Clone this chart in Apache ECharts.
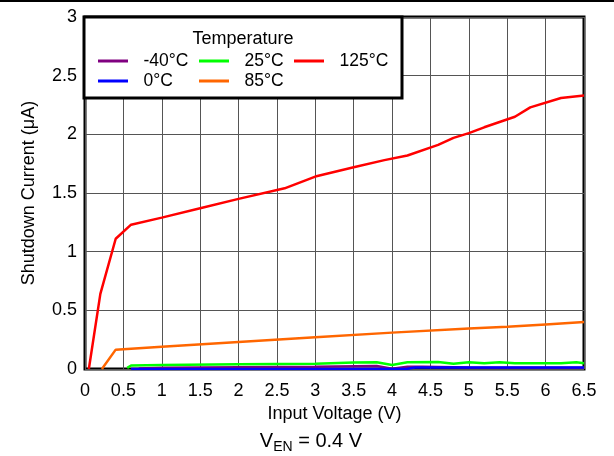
<!DOCTYPE html>
<html>
<head>
<meta charset="utf-8">
<script src="https://cdn.jsdelivr.net/npm/echarts@6/dist/echarts.min.js"></script>
<style>
  html, body { margin: 0; padding: 0; background: #fff; }
  #chart { width: 614px; height: 456px; }
</style>
</head>
<body>
<div id="chart"></div>
<script>
// input voltage (V) / shutdown current (uA) per temperature
const vM40 = [0.7, 1.0, 2.0, 3.0, 3.8, 4.0, 4.2, 4.4, 5.0, 6.0, 6.5]
const iM40 = [0.005, 0.01, 0.015, 0.02, 0.025, 0.003, 0.02, 0.02, 0.012, 0.01, 0.01]

const v0 = [0.6, 2.0, 4.2, 4.3, 5.0, 6.0, 6.5]
const i0 = [0, 0, 0.002, 0.012, 0.012, 0.012, 0.013]

const v25 = [0.55, 0.6, 1.0, 2.0, 3.0, 3.5, 3.8, 4.0, 4.2, 4.6, 4.8, 5.0, 5.2, 5.4, 5.6, 6.2, 6.4, 6.5]
const i25 = [0.01, 0.03, 0.035, 0.04, 0.045, 0.055, 0.057, 0.035, 0.057, 0.06, 0.045, 0.057, 0.05, 0.057, 0.05, 0.05, 0.057, 0.05]

const v85 = [0.22, 0.4, 1.0, 2.0, 3.0, 4.0, 5.0, 5.5, 6.0, 6.5]
const i85 = [0, 0.165, 0.19, 0.23, 0.27, 0.31, 0.345, 0.36, 0.38, 0.4]

const v125 = [0.05, 0.2, 0.4, 0.6, 1.0, 1.5, 2.0, 2.6, 3.0, 3.5, 3.9, 4.2, 4.6, 4.8, 5.0, 5.2, 5.6, 5.8, 6.2, 6.5]
const i125 = [0, 0.64, 1.11, 1.23, 1.29, 1.37, 1.45, 1.54, 1.64, 1.72, 1.78, 1.82, 1.91, 1.97, 2.01, 2.06, 2.15, 2.23, 2.31, 2.33]

const names = ['-40°C', '0°C', '25°C', '85°C', '125°C']
const colors = ['#800080', '#0000ff', '#00ff00', '#ff6600', '#ff0000']
const vData = [vM40, v0, v25, v85, v125]
const iData = [iM40, i0, i25, i85, i125]

const chart = echarts.init(document.getElementById('chart'))
const font = 'Liberation Sans, Arial, sans-serif'

const legendBase = {
  orient: 'vertical',
  top: 52,
  padding: 0,
  itemWidth: 35,
  itemHeight: 3,
  itemGap: 2,
  icon: 'path://M0,0H100V10H0Z',
  selectedMode: false,
  textStyle: { fontFamily: font, fontSize: 17.5, color: '#000', padding: [0, 0, 0, 8] }
}

let option = {
  animation: false,
  color: colors,
  grid: {
    left: 85,
    right: 30,
    top: 17,
    bottom: 87,
    show: true,
    borderColor: '#000',
    borderWidth: 3,
    backgroundColor: 'transparent'
  },
  legend: [
    Object.assign({}, legendBase, { left: 98, data: ['-40°C', '0°C'] }),
    Object.assign({}, legendBase, { left: 199, data: ['25°C', '85°C'] }),
    Object.assign({}, legendBase, { left: 294, data: ['125°C'] })
  ],
  xAxis: {
    type: 'value',
    min: 0,
    max: 6.5,
    interval: 0.5,
    name: 'Input Voltage (V)',
    nameLocation: 'middle',
    nameGap: 34,
    nameTextStyle: { fontFamily: font, fontSize: 18, color: '#000' },
    axisLine: { show: false },
    axisTick: { show: false },
    axisLabel: { fontFamily: font, fontSize: 18, color: '#000', margin: 13 },
    splitLine: { lineStyle: { color: '#555', width: 1 } }
  },
  yAxis: {
    type: 'value',
    min: 0,
    max: 3,
    interval: 0.5,
    name: 'Shutdown Current (μA)',
    nameLocation: 'middle',
    nameGap: 47,
    nameTextStyle: { fontFamily: font, fontSize: 18, color: '#000' },
    axisLine: { show: false },
    axisTick: { show: false },
    axisLabel: { fontFamily: font, fontSize: 18, color: '#000', margin: 8 },
    splitLine: { lineStyle: { color: '#555', width: 1 } }
  },
  graphic: [
    {
      type: 'line',
      shape: { x1: 0, y1: 1, x2: 614, y2: 1 },
      style: { stroke: '#000', lineWidth: 2 }
    },
    {
      type: 'rect',
      z: 3,
      shape: { x: 84, y: 17, width: 318, height: 81 },
      style: { fill: '#fff', stroke: '#000', lineWidth: 3 }
    },
    {
      type: 'text',
      z: 5,
      x: 243,
      y: 39,
      style: {
        text: 'Temperature',
        font: '18px ' + font,
        fill: '#000',
        align: 'center',
        verticalAlign: 'middle'
      }
    },
    {
      type: 'text',
      x: 311,
      y: 441,
      style: {
        text: '{n|V}{s|EN}{n| = 0.4 V}',
        align: 'center',
        verticalAlign: 'middle',
        rich: {
          n: { fontFamily: font, fontSize: 20, fill: '#000', color: '#000' },
          s: { fontFamily: font, fontSize: 14, fill: '#000', color: '#000', padding: [12, 0, 0, 0] }
        }
      }
    }
  ],
  series: []
}

for (let k = 0; k < names.length; k++) {
  option.series.push({
    name: names[k],
    type: 'line',
    symbol: 'none',
    z: 2,
    lineStyle: { width: 2.5, color: colors[k] },
    itemStyle: { color: colors[k] },
    data: vData[k].map((v, j) => [v, iData[k][j]])
  })
}

option && chart.setOption(option)
</script>
</body>
</html>
